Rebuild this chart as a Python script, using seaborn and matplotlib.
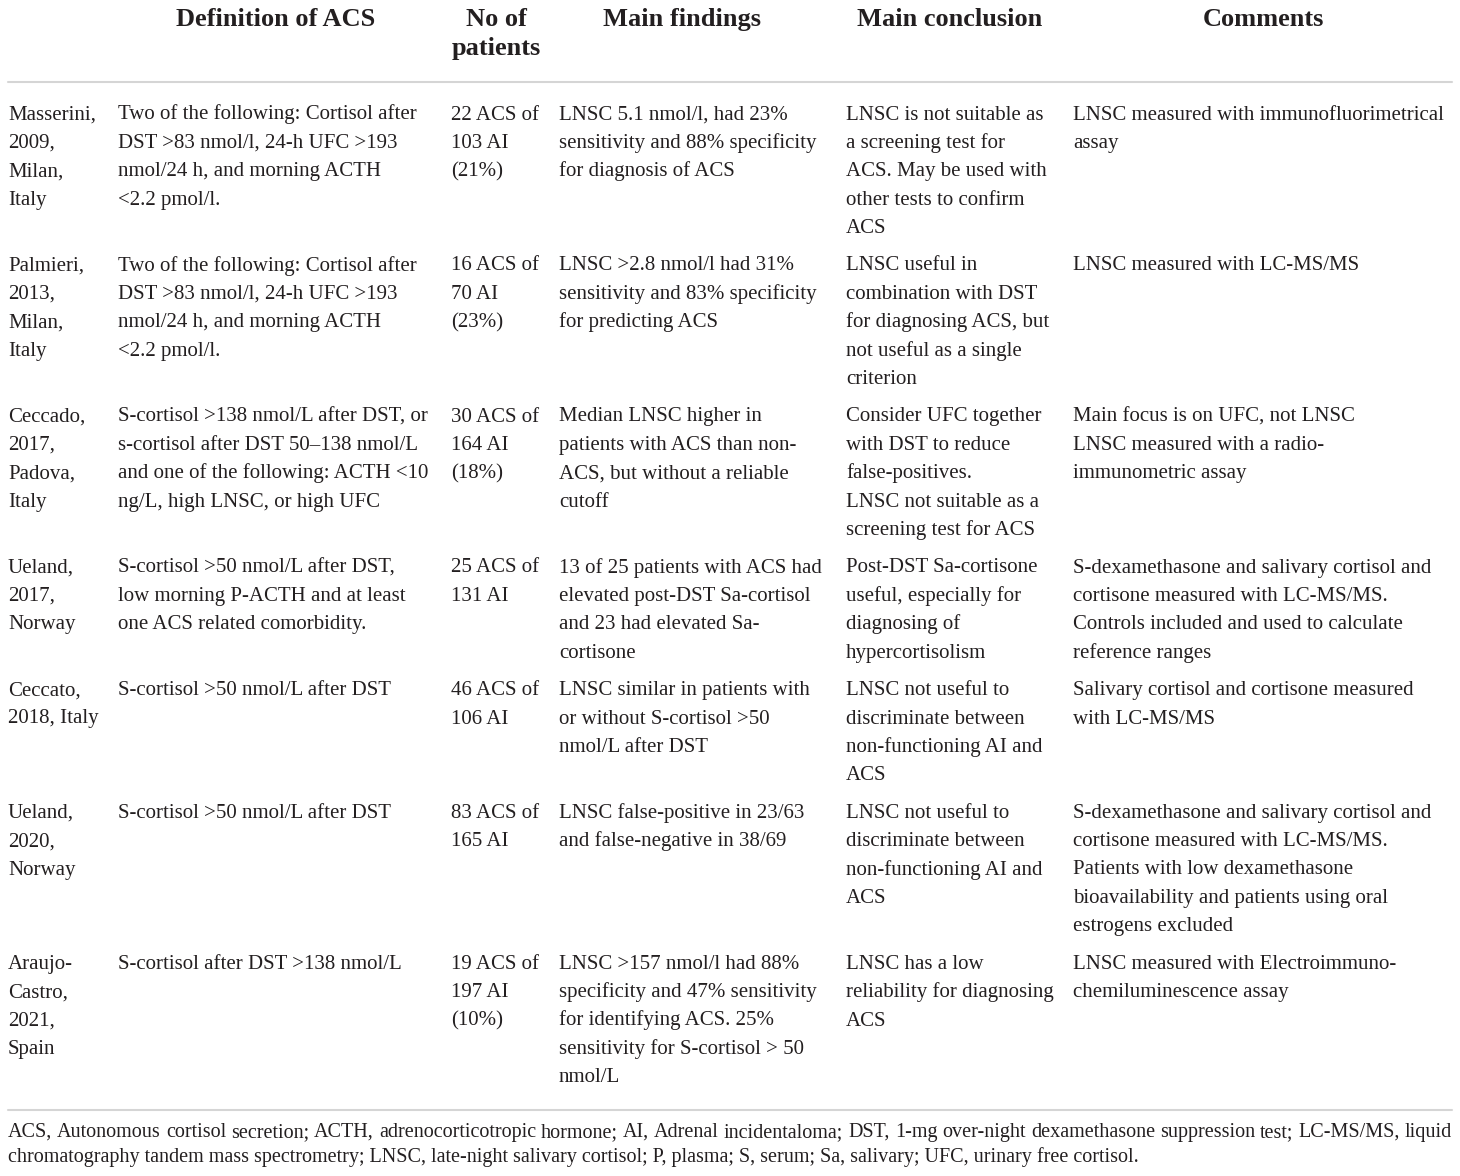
import matplotlib
matplotlib.use("Agg")
import matplotlib.pyplot as plt
import seaborn as sns

sns.set_theme(style="white")
plt.rcParams['font.family'] = ['Liberation Serif', 'DejaVu Serif']

# Tablo verisi (satir sonlari referanstaki gibi)
headers = ["", "Definition of ACS", "No of\npatients", "Main findings",
           "Main conclusion", "Comments"]

study = [
    "Masserini,\n2009,\nMilan,\nItaly",
    "Palmieri,\n2013,\nMilan,\nItaly",
    "Ceccado,\n2017,\nPadova,\nItaly",
    "Ueland,\n2017,\nNorway",
    "Ceccato,\n2018, Italy",
    "Ueland,\n2020,\nNorway",
    "Araujo-\nCastro,\n2021,\nSpain",
]
definition = [
    "Two of the following: Cortisol after\nDST >83 nmol/l, 24-h UFC >193\nnmol/24 h, and morning ACTH\n<2.2 pmol/l.",
    "Two of the following: Cortisol after\nDST >83 nmol/l, 24-h UFC >193\nnmol/24 h, and morning ACTH\n<2.2 pmol/l.",
    "S-cortisol >138 nmol/L after DST, or\ns-cortisol after DST 50\u2013138 nmol/L\nand one of the following: ACTH <10\nng/L, high LNSC, or high UFC",
    "S-cortisol >50 nmol/L after DST,\nlow morning P-ACTH and at least\none ACS related comorbidity.",
    "S-cortisol >50 nmol/L after DST",
    "S-cortisol >50 nmol/L after DST",
    "S-cortisol after DST >138 nmol/L",
]
patients = [
    "22 ACS of\n103 AI\n(21%)",
    "16 ACS of\n70 AI\n(23%)",
    "30 ACS of\n164 AI\n(18%)",
    "25 ACS of\n131 AI",
    "46 ACS of\n106 AI",
    "83 ACS of\n165 AI",
    "19 ACS of\n197 AI\n(10%)",
]
findings = [
    "LNSC 5.1 nmol/l, had 23%\nsensitivity and 88% specificity\nfor diagnosis of ACS",
    "LNSC >2.8 nmol/l had 31%\nsensitivity and 83% specificity\nfor predicting ACS",
    "Median LNSC higher in\npatients with ACS than non-\nACS, but without a reliable\ncutoff",
    "13 of 25 patients with ACS had\nelevated post-DST Sa-cortisol\nand 23 had elevated Sa-\ncortisone",
    "LNSC similar in patients with\nor without S-cortisol >50\nnmol/L after DST",
    "LNSC false-positive in 23/63\nand false-negative in 38/69",
    "LNSC >157 nmol/l had 88%\nspecificity and 47% sensitivity\nfor identifying ACS. 25%\nsensitivity for S-cortisol > 50\nnmol/L",
]
conclusion = [
    "LNSC is not suitable as\na screening test for\nACS. May be used with\nother tests to confirm\nACS",
    "LNSC useful in\ncombination with DST\nfor diagnosing ACS, but\nnot useful as a single\ncriterion",
    "Consider UFC together\nwith DST to reduce\nfalse-positives.\nLNSC not suitable as a\nscreening test for ACS",
    "Post-DST Sa-cortisone\nuseful, especially for\ndiagnosing of\nhypercortisolism",
    "LNSC not useful to\ndiscriminate between\nnon-functioning AI and\nACS",
    "LNSC not useful to\ndiscriminate between\nnon-functioning AI and\nACS",
    "LNSC has a low\nreliability for diagnosing\nACS",
]
comments = [
    "LNSC measured with immunofluorimetrical\nassay",
    "LNSC measured with LC-MS/MS",
    "Main focus is on UFC, not LNSC\nLNSC measured with a radio-\nimmunometric assay",
    "S-dexamethasone and salivary cortisol and\ncortisone measured with LC-MS/MS.\nControls included and used to calculate\nreference ranges",
    "Salivary cortisol and cortisone measured\nwith LC-MS/MS",
    "S-dexamethasone and salivary cortisol and\ncortisone measured with LC-MS/MS.\nPatients with low dexamethasone\nbioavailability and patients using oral\nestrogens excluded",
    "LNSC measured with Electroimmuno-\nchemiluminescence assay",
]
footnote = [
    "ACS, Autonomous cortisol secretion; ACTH, adrenocorticotropic hormone; AI, Adrenal incidentaloma; DST, 1-mg over-night dexamethasone suppression test; LC-MS/MS, liquid",
    "chromatography tandem mass spectrometry; LNSC, late-night salivary cortisol; P, plasma; S, serum; Sa, salivary; UFC, urinary free cortisol.",
]

columns = [study, definition, patients, findings, conclusion, comments]

# Yerlesim (piksel, taban cizgisi)
W, H = 1460, 1176
col_x = [8, 118, 451, 559, 846, 1073]
head_cx = [None, 276, 496, 682, 950, 1263]
line_h = 28.4
row_gap = 9.0
first_base = 119.5
txt_col = '#231f20'
rule_col = '#d5d5d5'

fig = plt.figure(figsize=(W / 100, H / 100), dpi=100)
ax = fig.add_axes([0, 0, 1, 1])
ax.set_xlim(0, W)
ax.set_ylim(H, 0)
ax.axis('off')

# Basliklar
for h, cx in zip(headers, head_cx):
    if not h:
        continue
    for i, part in enumerate(h.split('\n')):
        ax.text(cx, 26 + i * 29, part, ha='center', va='baseline',
                fontsize=19, fontweight='bold', color=txt_col)

ax.plot([8, 1452], [82, 82], color=rule_col, lw=1.5)

# Govde
y = first_base
for r in range(len(study)):
    nmax = 0
    for c, col in enumerate(columns):
        parts = col[r].split('\n')
        nmax = max(nmax, len(parts))
        for i, part in enumerate(parts):
            ax.text(col_x[c], y + i * line_h, part, ha='left', va='baseline',
                    fontsize=15, color=txt_col)
    y += nmax * line_h + row_gap

ax.plot([8, 1452], [1110, 1110], color=rule_col, lw=1.5)

# Dipnot: ikinci satir ~1127 px genisliginde
fig.canvas.draw()
renderer = fig.canvas.get_renderer()
t2 = ax.text(8, 1162, footnote[1], ha='left', va='baseline', fontsize=12, color=txt_col)
w2 = t2.get_window_extent(renderer).width
fs = round(12 * 1127 / w2, 1)
t2.set_fontsize(fs)

# ilk satir iki yana yasli
words = footnote[0].split(' ')
objs = [ax.text(0, 1137, w, ha='left', va='baseline', fontsize=fs, color=txt_col)
        for w in words]
widths = [o.get_window_extent(renderer).width for o in objs]
space = (1452 - 8 - sum(widths)) / (len(words) - 1)
xx = 8
for o, wd in zip(objs, widths):
    o.set_x(round(xx))
    xx += wd + space

plt.savefig('out.png', dpi=100)
